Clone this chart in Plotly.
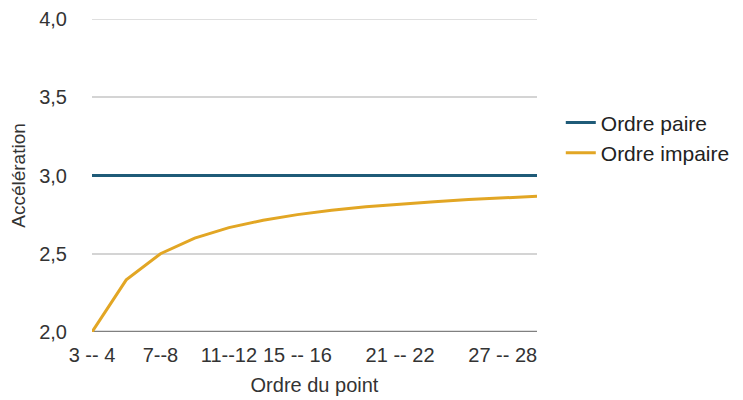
import plotly.graph_objects as go

# pairs of point orders on the x axis
categories = ["3 -- 4", "5 -- 6", "7--8", "9 -- 10", "11--12", "13 -- 14", "15 -- 16",
              "17 -- 18", "19 -- 20", "21 -- 22", "23 -- 24", "25 -- 26", "27 -- 28", "29 -- 30"]
shown_ticks = ["3 -- 4", "7--8", "11--12", "15 -- 16", "21 -- 22", "27 -- 28"]

paire = [3.0, 3.0, 3.0, 3.0, 3.0, 3.0, 3.0, 3.0, 3.0, 3.0, 3.0, 3.0, 3.0, 3.0]
impaire = [2.0, 2.333, 2.5, 2.6, 2.667, 2.714, 2.75, 2.778, 2.8, 2.818, 2.833, 2.846, 2.857, 2.867]

y_ticks = [2.0, 2.5, 3.0, 3.5, 4.0]

font = "Liberation Sans, Arial, sans-serif"
text_color = "#333333"

fig = go.Figure()
fig.add_trace(go.Scatter(x=categories, y=paire, mode="lines", name="Ordre paire",
                         line=dict(color="#1f5b78", width=3)))
fig.add_trace(go.Scatter(x=categories, y=impaire, mode="lines", name="Ordre impaire",
                         line=dict(color="#e2a624", width=3)))

# the page body adds an 8px offset, margins are set to compensate
fig.update_layout(
    width=743, height=400,
    margin=dict(l=84, r=214, t=11, b=76),
    paper_bgcolor="white", plot_bgcolor="white",
    separators=", ",
    font=dict(family=font, size=20, color=text_color),
    legend=dict(xref="container", yref="container", x=0.744, y=0.764,
                xanchor="left", yanchor="top",
                font=dict(size=21, color="#222222"), tracegroupgap=0, itemwidth=30),
)

fig.update_xaxes(
    type="category", range=[0, len(categories) - 1], automargin=False,
    tickvals=shown_ticks, ticktext=shown_ticks, tickangle=0,
    showgrid=False, showline=False, ticks="", ticklabelstandoff=9,
    tickfont=dict(size=20, color=text_color),
    title=dict(text="Ordre du point", font=dict(size=20, color=text_color), standoff=12),
    zeroline=False,
)
fig.update_yaxes(
    range=[2.0, 4.0], tickvals=y_ticks, tickformat=".1f", automargin=False,
    showgrid=True, gridcolor="#d4d4d4", gridwidth=1.5,
    zeroline=False, showline=False, ticks="", ticklabelstandoff=24,
    tickfont=dict(size=20, color=text_color),
    title=dict(text="Accélération", font=dict(size=19, color=text_color), standoff=9),
)

# top grid line sits on the edge of the range, baseline is darker
fig.add_hline(y=4.0, line=dict(color="#d4d4d4", width=1.5), layer="below")
fig.add_hline(y=2.0, line=dict(color="#808080", width=2.5), layer="below")

fig.write_html("out.html")
